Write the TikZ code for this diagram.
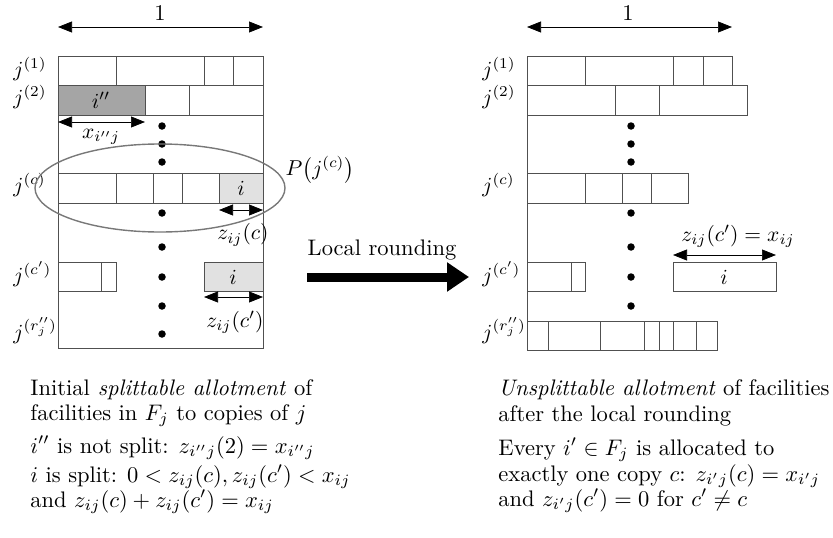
\documentclass[tikz,border=0pt]{standalone}
\usetikzlibrary{arrows.meta}
\definecolor{linec}{RGB}{80,80,80}
\definecolor{darkg}{RGB}{165,165,165}
\definecolor{lightg}{RGB}{225,225,225}
\definecolor{ellc}{RGB}{120,120,120}
\begin{document}
\begin{tikzpicture}[x=1pt,y=-1pt,
  cell/.style={draw=linec, line width=0.8pt},
  dimarrow/.style={{Triangle[length=14pt,width=11pt]}-{Triangle[length=14pt,width=11pt]}, line width=0.7pt},
  bigdot/.style={circle, fill=black, inner sep=0pt, minimum size=7.5pt},
  txt/.style={inner sep=0pt, scale=2.25},
  lab/.style={inner sep=0pt, scale=2.15},
  rowlabel/.style={lab, anchor=base west},
  para/.style={txt, anchor=base west}]
\useasboundingbox (0,0) rectangle (833,538);

% ---------------- left panel ----------------
\coordinate (LA1) at (58,27); \coordinate (LA2) at (263,27);
\draw[dimarrow] (LA1) -- (LA2);
\node[txt] (lone) at (160,13) {1};

\draw[cell] (58,56) rectangle (263,348);
% row 1
\draw[cell] (58,56) rectangle (263,85);
\foreach \x in {116,204,233} \draw[cell] (\x,56) -- (\x,85);
% row 2
\draw[cell, fill=darkg] (58,85) rectangle (145,115);
\draw[cell] (145,85) rectangle (263,115);
\draw[cell] (189,85) -- (189,115);
\node[lab] (ipp) at (101,100) {$i''$};
\coordinate (XA1) at (58,122); \coordinate (XA2) at (145,122);
\draw[dimarrow] (XA1) -- (XA2);
\node[lab] (xlab) at (101,137) {$x_{i''j}$};
% row c
\draw[cell] (58,173) rectangle (263,203);
\foreach \x in {116,153,182} \draw[cell] (\x,173) -- (\x,203);
\draw[cell, fill=lightg] (219,173) rectangle (263,203);
\node[lab] (ic) at (241,188) {$i$};
\coordinate (ZA1) at (219,210); \coordinate (ZA2) at (263,210);
\draw[dimarrow] (ZA1) -- (ZA2);
\node[lab] (zc) at (243,235) {$z_{ij}(c)$};
% row c'
\draw[cell] (58,262) rectangle (116,291);
\draw[cell] (101,262) -- (101,291);
\draw[cell, fill=lightg] (204,262) rectangle (263,291);
\node[lab] (icp) at (233,277) {$i$};
\coordinate (ZB1) at (204,297); \coordinate (ZB2) at (263,297);
\draw[dimarrow] (ZB1) -- (ZB2);
\node[lab] (zcp) at (235,322) {$z_{ij}(c')$};
% dots
\foreach \y in {126,144,162,213,247,277,306,334} \node[bigdot] at (162,\y) {};
% row labels
\node[rowlabel] (l1) at (13,76) {$j^{(1)}$};
\node[rowlabel] (l2) at (13,104) {$j^{(2)}$};
\node[rowlabel] (lc) at (13,192) {$j^{(c)}$};
\node[rowlabel] (lcp) at (13,282) {$j^{(c')}$};
\node[rowlabel] (lr) at (13,339) {$j^{(r''_j)}$};
% ellipse
\draw[ellc, line width=1.4pt] (160,188) ellipse [x radius=125, y radius=44];
\node[lab] (P) at (320,170) {$P\bigl(j^{(c)}\bigr)$};

% ---------------- middle arrow ----------------
\node[txt, anchor=base] (lr1) at (382,255) {Local rounding};
\coordinate (BA1) at (307,277); \coordinate (BA2) at (469,277);
\draw[line width=9pt, -{Triangle[length=22pt,width=28pt]}] (BA1) -- (BA2);

% ---------------- right panel ----------------
\coordinate (RA1) at (527,27); \coordinate (RA2) at (732,27);
\draw[dimarrow] (RA1) -- (RA2);
\node[txt] (rone) at (628,13) {1};

\draw[cell] (527,56) -- (527,350);
% row 1
\draw[cell] (527,56) rectangle (732,85);
\foreach \x in {585,673,703} \draw[cell] (\x,56) -- (\x,85);
% row 2
\draw[cell] (527,85) rectangle (747,115);
\foreach \x in {615,659} \draw[cell] (\x,85) -- (\x,115);
% row c
\draw[cell] (527,173) rectangle (688,203);
\foreach \x in {585,622,651} \draw[cell] (\x,173) -- (\x,203);
% row c'
\draw[cell] (527,262) rectangle (585,291);
\draw[cell] (571,262) -- (571,291);
\draw[cell] (673,262) rectangle (776,291);
\node[lab] (ir) at (724,277) {$i$};
\coordinate (ZR1) at (673,255); \coordinate (ZR2) at (776,255);
\draw[dimarrow] (ZR1) -- (ZR2);
\node[lab] (zr) at (738,236) {$z_{ij}(c')=x_{ij}$};
% row r
\draw[cell] (527,321) rectangle (717,350);
\foreach \x in {548,600,644,659,673,696} \draw[cell] (\x,321) -- (\x,350);
% dots
\foreach \y in {126,144,162,213,247,277,306} \node[bigdot] at (631,\y) {};
% row labels
\node[rowlabel] (r1) at (482,76) {$j^{(1)}$};
\node[rowlabel] (r2) at (482,104) {$j^{(2)}$};
\node[rowlabel] (rc) at (482,192) {$j^{(c)}$};
\node[rowlabel] (rcp) at (482,282) {$j^{(c')}$};
\node[rowlabel] (rr) at (482,339) {$j^{(r''_j)}$};

% ---------------- captions ----------------
\node[para] (t1) at (30,395) {\makebox[125.3pt][s]{Initial \textit{splittable allotment} of}};
\node[para] (t2) at (30,420) {facilities in $F_j$ to copies of $j$};
\node[para] (t3) at (30,453) {$i''$ is not split: $z_{i''j}(2)=x_{i''j}$};
\node[para] (t4) at (30,482) {$i$ is split: $0<z_{ij}(c),z_{ij}(c')<x_{ij}$};
\node[para] (t5) at (30,507) {and $z_{ij}(c)+z_{ij}(c')=x_{ij}$};

\node[para] (u1) at (498,395) {\textit{Unsplittable allotment} of facilities};
\node[para] (u2) at (498,421) {after the local rounding};
\node[para] (u3) at (498,455) {Every $i'\in F_j$ is allocated to};
\node[para] (u4) at (498,481) {exactly one copy $c$: $z_{i'j}(c)=x_{i'j}$};
\node[para] (u5) at (498,506) {and $z_{i'j}(c')=0$ for $c'\neq c$};
\end{tikzpicture}
\end{document}
